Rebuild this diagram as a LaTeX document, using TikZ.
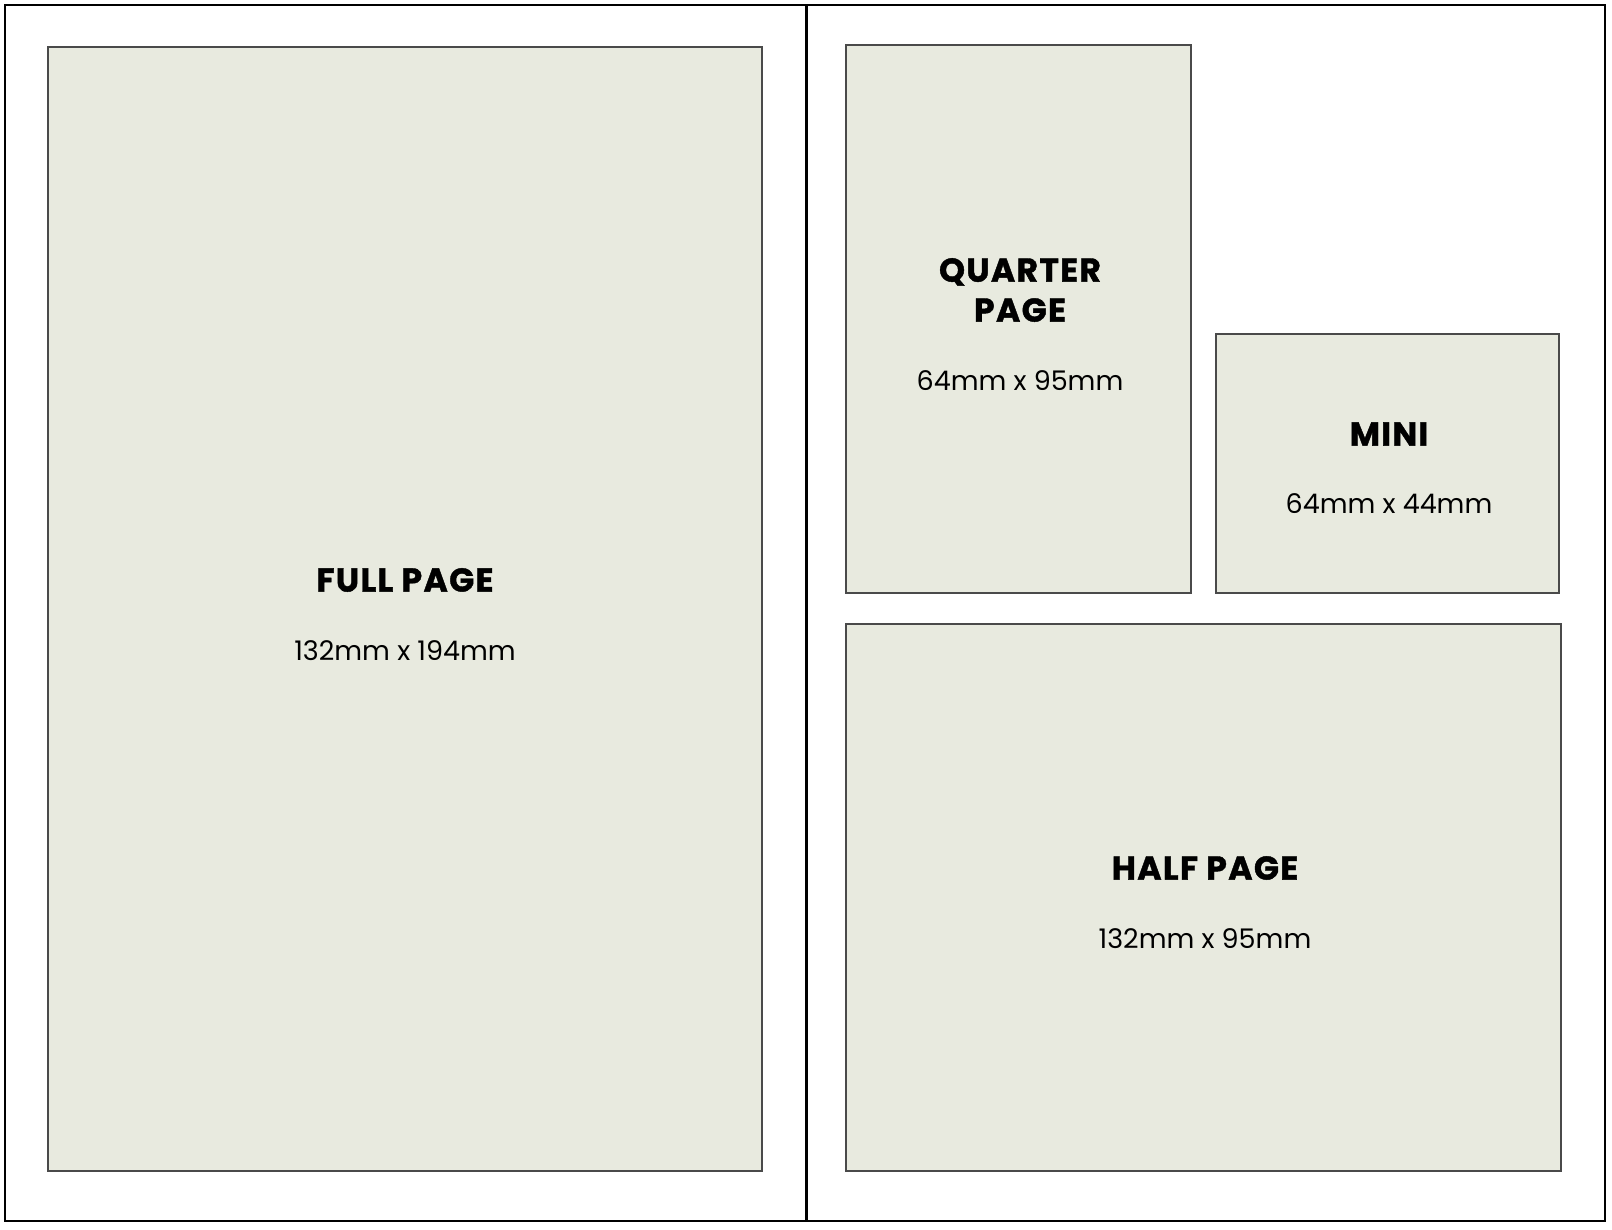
\documentclass[tikz,border=0pt]{standalone}
\usepackage{fontspec}
\setmainfont{Poppins}[BoldFont={* Bold}]
\newfontfamily\titlefont{Poppins Bold}[LetterSpace=4,FakeBold=1.2]
\definecolor{paper}{HTML}{E8EADF}
\definecolor{edge}{HTML}{4A4A4A}
\begin{document}
\begin{tikzpicture}[x=1pt,y=-1pt,
  adbox/.style={draw=edge,line width=2pt,fill=paper},
  title/.style={font=\titlefont\fontsize{33}{40}\selectfont,align=center,inner sep=0pt},
  dims/.style={font=\fontsize{27}{32}\selectfont,inner sep=0pt}]
\useasboundingbox (0,0) rectangle (1612,1230);
\fill[white] (0,0) rectangle (1612,1230);
\draw[black,line width=2.5pt] (5,5) rectangle (1605,1221);
\draw[black,line width=3pt] (806,5) -- (806,1221);
% boxes
\draw[adbox] (48,47) rectangle (762,1171);
\draw[adbox] (846,45) rectangle (1191,593);
\draw[adbox] (1216,334) rectangle (1559,593);
\draw[adbox] (846,624) rectangle (1561,1171);
% texts
\node[title] (fullt) at (405,580) {FULL PAGE};
\node[dims] (fulld) at (405,651) {132mm x 194mm};
\node[title] (quartt) at (1020,290) {QUARTER\\PAGE};
\node[dims] (quartd) at (1020,381) {64mm x 95mm};
\node[title] (minit) at (1389,434) {MINI};
\node[dims] (minid) at (1389,504) {64mm x 44mm};
\node[title] (halft) at (1205,868) {HALF PAGE};
\node[dims] (halfd) at (1205,939) {132mm x 95mm};
\end{tikzpicture}
\end{document}
